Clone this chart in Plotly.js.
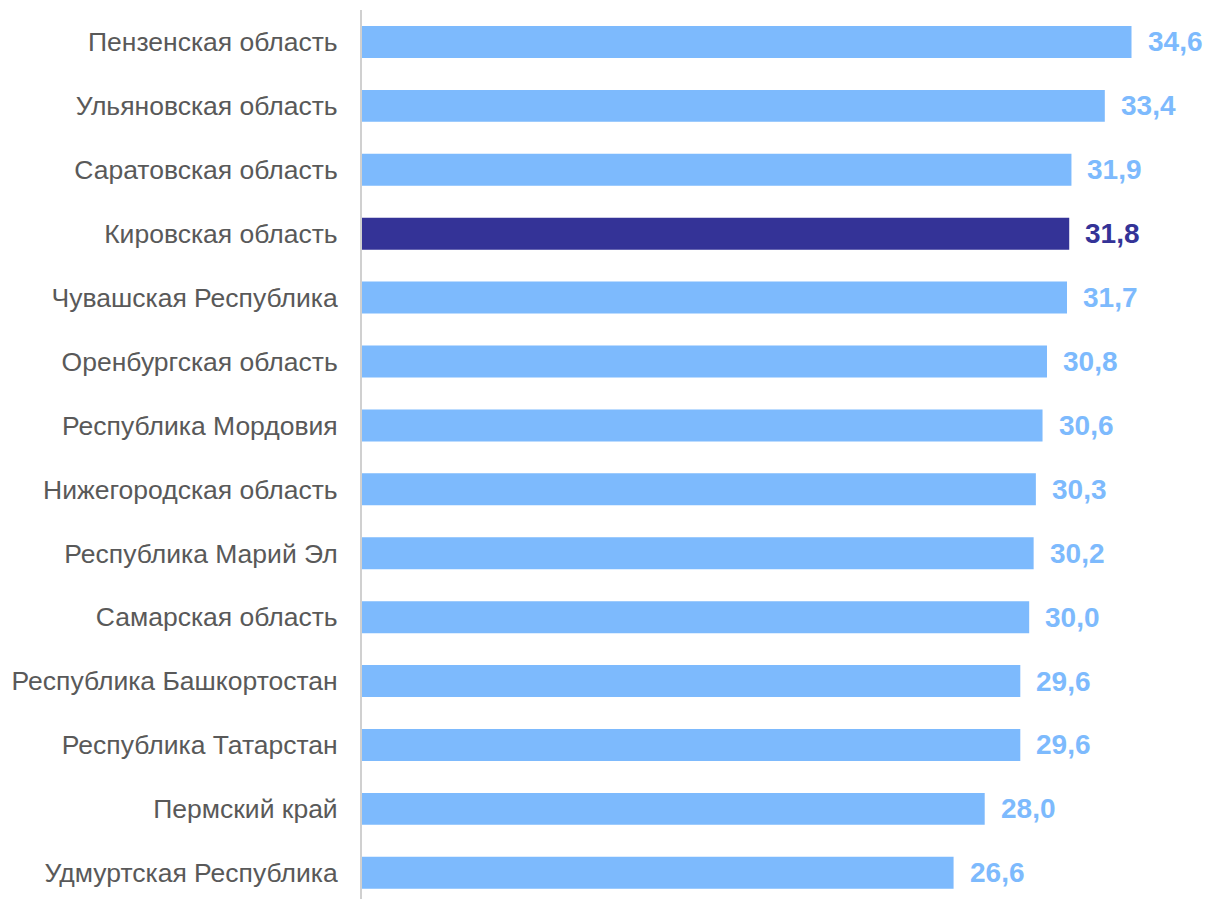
<!DOCTYPE html>
<html>
<head>
<meta charset="utf-8">
<script src="https://cdn.plot.ly/plotly-3.0.1.min.js"></script>
<style>html,body{margin:0;padding:0;background:#fff;}#chart{width:1206px;height:899px;}</style>
</head>
<body>
<div id="chart"></div>
<script>
const regions = [
  "Пензенская область",
  "Ульяновская область",
  "Саратовская область",
  "Кировская область",
  "Чувашская Республика",
  "Оренбургская область",
  "Республика Мордовия",
  "Нижегородская область",
  "Республика Марий Эл",
  "Самарская область",
  "Республика Башкортостан",
  "Республика Татарстан",
  "Пермский край",
  "Удмуртская Республика"
];
const values = [34.6, 33.4, 31.9, 31.8, 31.7, 30.8, 30.6, 30.3, 30.2, 30.0, 29.6, 29.6, 28.0, 26.6];
const highlight = "Кировская область";

const LIGHT = "#7DBAFD";
const DARK = "#343397";
const barColors = regions.map(r => r === highlight ? DARK : LIGHT);

const fmt = v => v.toFixed(1).replace(".", ",");

const annotations = regions.map((r, i) => ({
  x: values[i], y: r, xref: "x", yref: "y",
  text: "<b>" + fmt(values[i]) + "</b>",
  showarrow: false, xanchor: "left", yanchor: "middle", xshift: 14, yshift: 0,
  font: {family: "Liberation Sans, Arial, sans-serif", size: 28, color: r === highlight ? DARK : LIGHT}
}));

Plotly.newPlot("chart", [{
  type: "bar", orientation: "h",
  x: values, y: regions,
  marker: {color: barColors, line: {width: 0}},
  hoverinfo: "skip"
}], {
  width: 1206, height: 899,
  margin: {l: 362, r: 0, t: 10, b: 0, pad: 0},
  paper_bgcolor: "#ffffff", plot_bgcolor: "#ffffff",
  bargap: 0.5,
  showlegend: false,
  font: {family: "Liberation Sans, Arial, sans-serif", color: "#595959"},
  xaxis: {range: [0, 37.95], showgrid: false, zeroline: false, showticklabels: false, ticks: "", showline: false, fixedrange: true},
  yaxis: {
    type: "category", categoryorder: "array", categoryarray: regions,
    range: [13.41, -0.5],
    showgrid: false, zeroline: false, ticks: "",
    showline: true, linecolor: "#d0d0d0", linewidth: 2,
    ticklabelstandoff: 17,
    tickfont: {family: "Liberation Sans, Arial, sans-serif", size: 26.5, color: "#595959"}
  },
  annotations: annotations
}, {displayModeBar: false, staticPlot: true});
</script>
</body>
</html>
